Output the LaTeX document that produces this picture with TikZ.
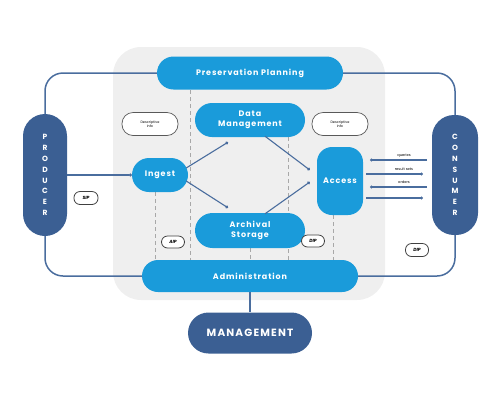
\documentclass[tikz,border=0pt]{standalone}
\usepackage{fontspec}
\setmainfont{Poppins}
\newfontfamily\rf{Poppins}[LetterSpace=11]
\usetikzlibrary{arrows.meta,calc}
\definecolor{lblue}{HTML}{1A9BDA}
\definecolor{dblue}{HTML}{3B5F93}
\definecolor{lnblue}{HTML}{4A6D9E}
\definecolor{bggray}{HTML}{EFEFEF}
\definecolor{dashgray}{HTML}{A8A8A8}
\begin{document}
\begin{tikzpicture}[x=1pt,y=-1pt,
  lpill/.style={fill=lblue,draw=none,text=white,font=\rf\bfseries\fontsize{8}{9.5}\selectfont,align=center,inner sep=0pt},
  dpill/.style={fill=dblue,draw=none,text=white,font=\rf\bfseries\fontsize{10.5}{11}\selectfont,align=center,inner sep=0pt},
  vpill/.style={fill=dblue,draw=none,text=white,font=\bfseries\fontsize{7.5}{10.8}\selectfont,align=center,inner sep=0pt,minimum width=44pt,minimum height=122pt,rounded corners=22pt},
  infobox/.style={fill=white,draw=black!65,line width=0.7pt,rounded corners=11pt,minimum width=56pt,minimum height=23pt,inner sep=0pt,align=center,font=\fontsize{3.4}{4}\selectfont},
  pkg/.style={fill=white,draw=black!75,line width=0.8pt,rounded corners=6pt,minimum width=24pt,minimum height=13pt,inner sep=0pt,font=\bfseries\itshape\fontsize{4.5}{5}\selectfont},
  conn/.style={draw=lnblue,line width=1.5pt},
  flow/.style={draw=lnblue,line width=1.1pt,-{Circle[length=3pt,fill=dblue]}},
  guide/.style={draw=dashgray,line width=0.7pt,dash pattern=on 4pt off 3pt},
  lbl/.style={font=\fontsize{3.6}{4}\selectfont,inner sep=0pt}
]
\useasboundingbox (0,0) rectangle (500,400);
% background panel
\fill[bggray,rounded corners=28pt] (113,47) rectangle (385,300);

% dashed guides (behind boxes)
\draw[guide] (190,90) -- (190,260);
\draw[guide] (155,192) -- (155,260);
\draw[guide] (250,248) -- (250,260);
\draw[guide] (288,137) -- (288,260);
\draw[guide] (333,215) -- (333,260);

% nodes
\node[lpill,minimum width=186pt,minimum height=33pt,rounded corners=16.5pt] (pp) at (250,73) {Preservation Planning};
\node[lpill,minimum width=110pt,minimum height=34pt,rounded corners=17pt] (dm) at (250,120) {Data\\Management};
\node[lpill,minimum width=110pt,minimum height=35pt,rounded corners=17.5pt] (as) at (250,230.5) {Archival\\Storage};
\node[lpill,minimum width=56pt,minimum height=34pt,rounded corners=17pt] (ing) at (160,175) {Ingest};
\node[lpill,minimum width=46pt,minimum height=68pt,rounded corners=15pt] (acc) at (340,181) {Access};
\node[lpill,minimum width=216pt,minimum height=32pt,rounded corners=16pt] (adm) at (250,276) {Administration};
\node[dpill,minimum width=124pt,minimum height=41pt,rounded corners=20.5pt] (mg) at (250,333) {MANAGEMENT};
\node[vpill] (prod) at (45,175) {P\\R\\O\\D\\U\\C\\E\\R};
\node[vpill,minimum width=46pt,minimum height=120pt] (cons) at (455,175) {C\\O\\N\\S\\U\\M\\E\\R};

% info ovals
\node[infobox] (d1) at (150,124) {Descriptive\\info};
\node[infobox] (d2) at (340,124) {Descriptive\\info};
\node[pkg] (sip) at (86,198) {SIP};
\node[pkg,minimum width=23pt,minimum height=12pt] (aip) at (173,242) {AIP};
\node[pkg,minimum width=23pt,minimum height=12pt] (dip1) at (313,241) {DIP};
\node[pkg,minimum width=23pt,minimum height=13pt] (dip2) at (417,250) {DIP};

% outer connectors
\draw[conn,rounded corners=18pt] (pp.west) -- (45,73) -- (prod.north);
\draw[conn,rounded corners=18pt] (pp.east) -- (455,73) -- (cons.north);
\draw[conn,rounded corners=18pt] (prod.south) -- (45,276) -- (adm.west);
\draw[conn,rounded corners=18pt] (cons.south) -- (455,276) -- (adm.east);
\draw[conn] (adm.south) -- (mg.north);

% flows
\draw[flow] (prod.east) -- (ing.west);
\draw[flow] ([shift={(-2,-7)}]ing.east) -- ([shift={(-22,5)}]dm.south);
\draw[flow] ([shift={(-2,6)}]ing.east) -- ([shift={(-22,-5)}]as.north);
\draw[flow] ([shift={(15,-1)}]dm.south) -- ([shift={(-7,-11)}]acc.west);
\draw[flow] ([shift={(15,1)}]as.north) -- ([shift={(-7,1)}]acc.west);

% consumer flows
\coordinate (qa) at (370,160); \coordinate (qb) at (427,160);
\coordinate (ra) at (366,174); \coordinate (rb) at (423,174);
\coordinate (oa) at (370,187); \coordinate (ob) at (427,187);
\coordinate (ua) at (366,198); \coordinate (ub) at (423,198);
\draw[flow] (qb) -- (qa);
\draw[flow] (ra) -- (rb);
\draw[flow] (ob) -- (oa);
\draw[flow] (ua) -- (ub);
\node[lbl] (lq) at (404,156) {queries};
\node[lbl] (lr) at (404,169.5) {result sets};
\node[lbl] (lo) at (404,182.5) {orders};
\end{tikzpicture}
\end{document}
